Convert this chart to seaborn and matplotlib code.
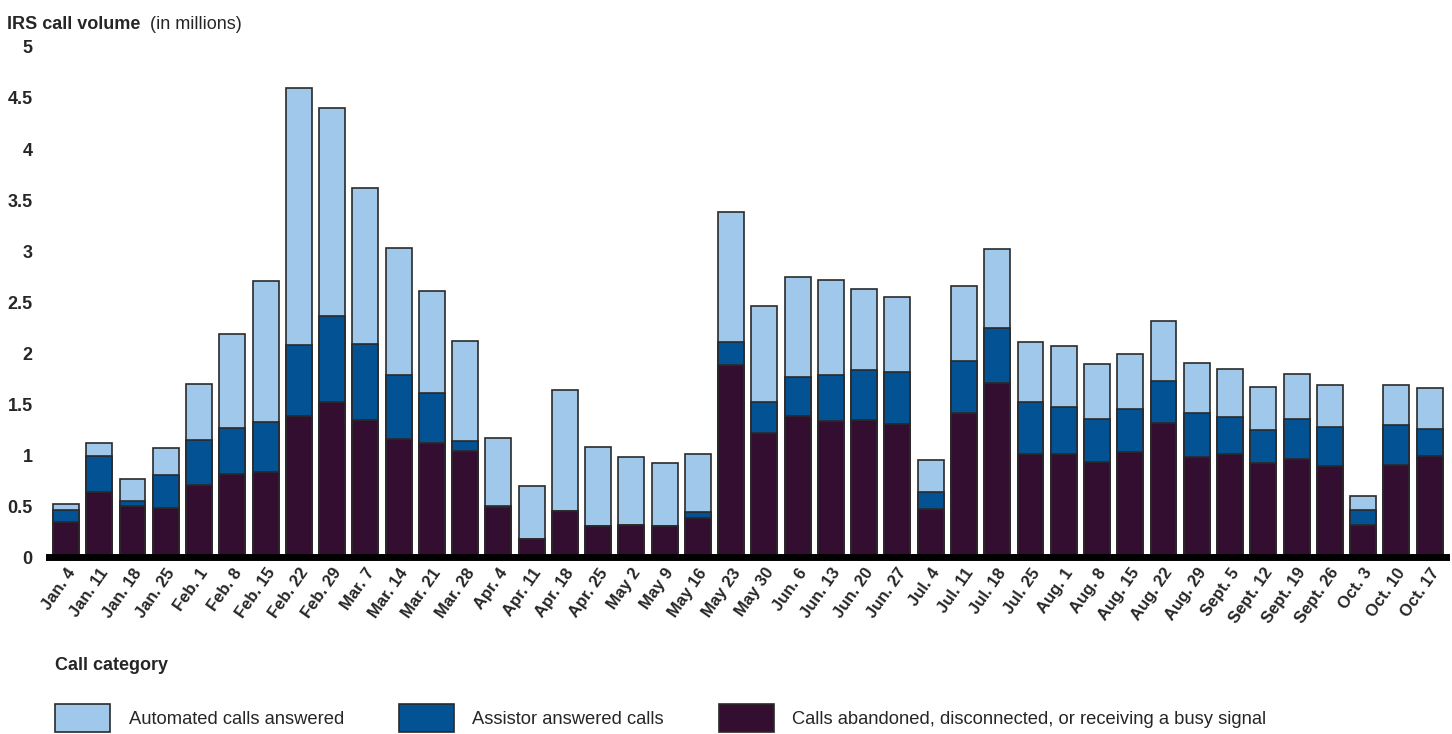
import numpy as np
import pandas as pd
import matplotlib
matplotlib.use("Agg")
import matplotlib.pyplot as plt
import matplotlib.transforms as mtransforms
import seaborn as sns
from matplotlib.patches import Patch

weeks = ["Jan. 4", "Jan. 11", "Jan. 18", "Jan. 25", "Feb. 1", "Feb. 8", "Feb. 15",
         "Feb. 22", "Feb. 29", "Mar. 7", "Mar. 14", "Mar. 21", "Mar. 28", "Apr. 4",
         "Apr. 11", "Apr. 18", "Apr. 25", "May 2", "May 9", "May 16", "May 23",
         "May 30", "Jun. 6", "Jun. 13", "Jun. 20", "Jun. 27", "Jul. 4", "Jul. 11",
         "Jul. 18", "Jul. 25", "Aug. 1", "Aug. 8", "Aug. 15", "Aug. 22", "Aug. 29",
         "Sept. 5", "Sept. 12", "Sept. 19", "Sept. 26", "Oct. 3", "Oct. 10", "Oct. 17"]

# calls abandoned / disconnected / busy signal (millions)
abandoned = [0.34, 0.64, 0.50, 0.48, 0.71, 0.81, 0.83, 1.38, 1.52, 1.34, 1.16, 1.12, 1.04, 0.49,
             0.18, 0.45, 0.30, 0.31, 0.30, 0.38, 1.88, 1.22, 1.38, 1.33, 1.34, 1.30, 0.47, 1.41,
             1.71, 1.01, 1.01, 0.93, 1.03, 1.31, 0.98, 1.01, 0.92, 0.96, 0.89, 0.31, 0.90, 0.99]
# assistor answered calls
assistor = [0.12, 0.35, 0.05, 0.32, 0.44, 0.46, 0.49, 0.70, 0.84, 0.75, 0.62, 0.49, 0.10, 0.01,
            0.00, 0.00, 0.00, 0.00, 0.00, 0.06, 0.23, 0.30, 0.39, 0.45, 0.49, 0.51, 0.17, 0.51,
            0.54, 0.51, 0.46, 0.42, 0.42, 0.42, 0.43, 0.36, 0.33, 0.39, 0.39, 0.15, 0.39, 0.27]
# automated calls answered
automated = [0.06, 0.13, 0.22, 0.27, 0.55, 0.92, 1.39, 2.52, 2.04, 1.53, 1.25, 1.00, 0.98, 0.67,
             0.52, 1.19, 0.78, 0.67, 0.62, 0.57, 1.27, 0.94, 0.98, 0.94, 0.80, 0.74, 0.31, 0.74,
             0.77, 0.59, 0.60, 0.54, 0.54, 0.58, 0.49, 0.47, 0.42, 0.44, 0.41, 0.14, 0.40, 0.40]

c_auto = "#9fc8ea"
c_assist = "#035293"
c_aband = "#330e31"

df = pd.DataFrame({"week": weeks, "abandoned": abandoned,
                   "assistor": assistor, "automated": automated})
df["lvl2"] = df["abandoned"] + df["assistor"]
df["lvl3"] = df["lvl2"] + df["automated"]

sns.set_style("white")
plt.rcParams["font.family"] = ["Liberation Sans", "DejaVu Sans"]

fig = plt.figure(figsize=(14.52, 7.34), dpi=100)
ax = fig.add_axes([0.034, 0.241, 0.962, 0.695])

bw = 0.78
ec = "#2a2a2a"
sns.barplot(data=df, x="week", y="lvl3", color=c_auto, width=bw, edgecolor=ec,
            linewidth=1.2, saturation=1, ax=ax)
sns.barplot(data=df, x="week", y="lvl2", color=c_assist, width=bw, edgecolor=ec,
            linewidth=1.2, saturation=1, ax=ax)
sns.barplot(data=df, x="week", y="abandoned", color=c_aband, width=bw, edgecolor=ec,
            linewidth=1.2, saturation=1, ax=ax)

ax.set_xlim(-0.5, len(weeks) - 0.5)
ax.set_ylim(0, 5)
ax.set_yticks([0, 0.5, 1, 1.5, 2, 2.5, 3, 3.5, 4, 4.5, 5])
ax.set_yticklabels(["0", "0.5", "1", "1.5", "2", "2.5", "3", "3.5", "4", "4.5", "5"],
                   fontsize=13, fontweight="bold")
ax.set_xticks(range(len(weeks)))
ax.set_xticklabels(weeks, rotation=55, ha="right", rotation_mode="anchor",
                   fontsize=12, fontweight="bold")
shift = mtransforms.ScaledTranslation(5 / 72, 0, fig.dpi_scale_trans)
for lab in ax.get_xticklabels():
    lab.set_transform(lab.get_transform() + shift)
ax.tick_params(axis="y", length=0, pad=12)
ax.tick_params(axis="x", length=0, pad=6)
ax.set_xlabel("")
ax.set_ylabel("")
sns.despine(ax=ax, left=True, top=True, right=True)
ax.spines["bottom"].set_linewidth(5)
ax.spines["bottom"].set_color("black")
ax.spines["bottom"].set_zorder(5)

fig.text(0.005, 0.967, "IRS call volume", fontsize=13, fontweight="bold", va="center")
fig.text(0.103, 0.967, "(in millions)", fontsize=13, va="center")
fig.text(0.038, 0.094, "Call category", fontsize=13, fontweight="bold", va="center")

handles = [Patch(facecolor=c_auto, edgecolor=ec, linewidth=1.2),
           Patch(facecolor=c_assist, edgecolor=ec, linewidth=1.2),
           Patch(facecolor=c_aband, edgecolor=ec, linewidth=1.2)]
labels = ["Automated calls answered", "Assistor answered calls",
          "Calls abandoned, disconnected, or receiving a busy signal"]
fig.legend(handles, labels, loc="center left", bbox_to_anchor=(0.038, 0.022), ncol=3,
           frameon=False, fontsize=13.2, handlelength=3.0, handleheight=2.0,
           handletextpad=1.0, columnspacing=3.0, borderaxespad=0, borderpad=0)

fig.savefig("out.png", dpi=100)
